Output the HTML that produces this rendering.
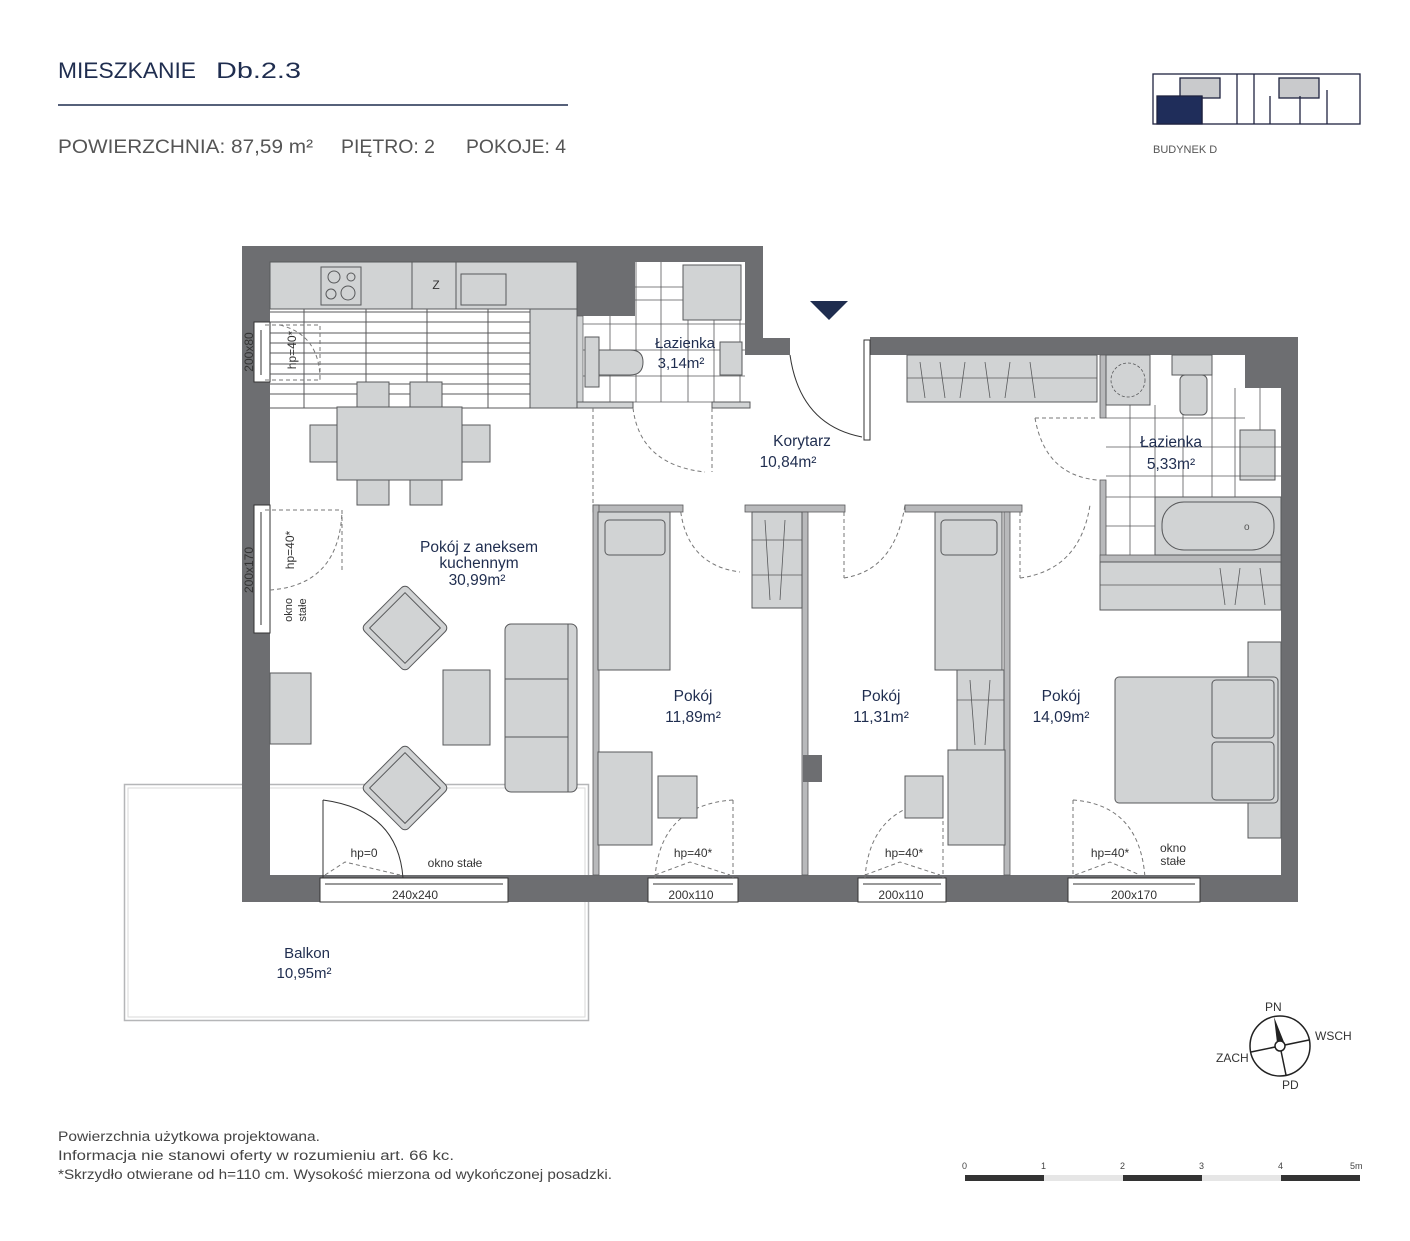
<!DOCTYPE html>
<html><head><meta charset="utf-8"><style>
html,body{margin:0;padding:0;background:#fff;}
svg{display:block;}
text{font-family:"Liberation Sans",sans-serif;}
</style></head><body>
<svg width="1410" height="1241" viewBox="0 0 1410 1241" xmlns="http://www.w3.org/2000/svg">
<rect width="1410" height="1241" fill="#fff"/>
<!-- header -->
<text x="58" y="78" font-size="22" fill="#1f2d4f" textLength="138" lengthAdjust="spacingAndGlyphs">MIESZKANIE</text>
<text x="216" y="78" font-size="22" fill="#1f2d4f" textLength="85" lengthAdjust="spacingAndGlyphs">Db.2.3</text>
<line x1="58" y1="105" x2="568" y2="105" stroke="#1f2d4f" stroke-width="1.5"/>
<g font-size="19" fill="#555">
<text x="58" y="153" textLength="255" lengthAdjust="spacingAndGlyphs">POWIERZCHNIA:  87,59 m²</text>
<text x="341" y="153" textLength="94" lengthAdjust="spacingAndGlyphs">PIĘTRO:  2</text>
<text x="466" y="153" textLength="100" lengthAdjust="spacingAndGlyphs">POKOJE:  4</text>
</g>

<!-- building thumbnail -->
<g stroke="#1f2340" stroke-width="1.3" fill="#fff">
<rect x="1153" y="74" width="207" height="50"/>
<rect x="1180" y="78" width="40" height="20" fill="#c9cacc"/>
<rect x="1279" y="78" width="40" height="20" fill="#c9cacc"/>
<rect x="1157" y="96" width="45" height="28" fill="#1f2d5a"/>
<line x1="1202" y1="96" x2="1202" y2="124"/>
<line x1="1237" y1="74" x2="1237" y2="124"/><line x1="1254" y1="74" x2="1254" y2="124"/>
<line x1="1270" y1="96" x2="1270" y2="124"/><line x1="1300" y1="96" x2="1300" y2="124"/><line x1="1327" y1="90" x2="1327" y2="124"/>
</g>
<text x="1153" y="153" font-size="11" fill="#555">BUDYNEK D</text>

<!-- balcony -->
<rect x="124.5" y="784.5" width="464" height="236" fill="none" stroke="#b5b6b8" stroke-width="1.5"/>
<rect x="128" y="788" width="457" height="229" fill="none" stroke="#d8d9da" stroke-width="1"/>
<text x="307" y="958" font-size="15" fill="#1f2d4f" text-anchor="middle">Balkon</text>
<text x="304" y="978" font-size="15" fill="#1f2d4f" text-anchor="middle">10,95m²</text>

<!-- walls -->
<g fill="#6d6e71">
<rect x="242" y="246" width="28" height="656"/>
<rect x="242" y="246" width="521" height="16"/>
<rect x="577" y="262" width="58" height="54"/>
<rect x="745" y="246" width="18" height="109"/>
<rect x="745" y="338" width="45" height="17"/>
<rect x="870" y="337" width="428" height="18"/>
<rect x="1245" y="355" width="36" height="33"/>
<rect x="1281" y="337" width="17" height="565"/>
<rect x="242" y="875" width="1056" height="27"/>
</g>
<!-- windows -->
<g fill="#fff" stroke="#333" stroke-width="1">
<rect x="254" y="322" width="16" height="60"/>
<rect x="254" y="505" width="16" height="128"/>
<rect x="320" y="878" width="188" height="24"/>
<rect x="648" y="878" width="90" height="24"/>
<rect x="858" y="878" width="88" height="24"/>
<rect x="1068" y="878" width="132" height="24"/>
</g>
<g stroke="#333" stroke-width="1" fill="none">
<line x1="261" y1="330" x2="261" y2="375"/><line x1="261" y1="512" x2="261" y2="625"/>
<line x1="325" y1="884" x2="503" y2="884"/><line x1="653" y1="884" x2="733" y2="884"/>
<line x1="863" y1="884" x2="941" y2="884"/><line x1="1073" y1="884" x2="1195" y2="884"/>
</g>
<g font-size="12" fill="#333" text-anchor="middle">
<text x="415" y="899">240x240</text><text x="691" y="899">200x110</text>
<text x="901" y="899">200x110</text><text x="1134" y="899">200x170</text>
<text transform="translate(253,352) rotate(-90)">200x80</text>
<text transform="translate(253,570) rotate(-90)">200x170</text>
</g>

<!-- kitchen -->
<g fill="#d1d3d4" stroke="#58595b" stroke-width="1">
<rect x="270" y="262" width="307" height="47"/>
<rect x="530" y="309" width="47" height="99"/>
<rect x="321" y="267" width="40" height="38"/>
<rect x="461" y="274" width="45" height="31"/>
</g>
<g stroke="#58595b" fill="none" stroke-width="1">
<line x1="412" y1="262" x2="412" y2="309"/><line x1="456" y1="262" x2="456" y2="309"/>
<circle cx="334" cy="277" r="6"/><circle cx="351" cy="277" r="4"/><circle cx="331" cy="294" r="5"/><circle cx="348" cy="293" r="7"/>
<path d="M270 312H530M270 322H530M270 333H530M270 343H530M270 353H530M270 364H530M270 374H530M270 384H530M270 394H530M270 408H577"/>
<path d="M304 309V408M366 309V408M427 309V408M488 309V408"/>
</g>
<text x="436" y="289" font-size="12" fill="#333" text-anchor="middle">Z</text>

<!-- bathroom 1 -->
<rect x="577" y="316" width="6" height="92" fill="#d1d3d4" stroke="#58595b" stroke-width="0.7"/>
<g stroke="#58595b" fill="none" stroke-width="0.8">
<path d="M583 324H745M583 350H745M583 376H745M583 402H745M635 287H683M635 300H683"/>
<path d="M610 316V402M636 262V402M661 262V402M688 316V402M714 316V402M740 316V402"/>
</g>
<g fill="#d1d3d4" stroke="#58595b" stroke-width="1">
<rect x="683" y="265" width="58" height="55"/>
<rect x="585" y="337" width="14" height="50"/>
<path d="M599 350H630Q643 350 643 362Q643 375 630 375H599Z"/>
<rect x="720" y="342" width="22" height="33"/>
<rect x="577" y="402" width="56" height="6"/>
<rect x="712" y="402" width="38" height="6"/>
</g>
<text x="685" y="348" font-size="15" fill="#1f2d4f" text-anchor="middle">Łazienka</text>
<text x="681" y="368" font-size="15" fill="#1f2d4f" text-anchor="middle">3,14m²</text>

<!-- dashed door swings -->
<g stroke="#777" stroke-dasharray="4,3" fill="none" stroke-width="1">
<line x1="593" y1="408" x2="593" y2="505"/>
<line x1="712" y1="408" x2="712" y2="472"/>
<path d="M633 408Q640 465 705 472"/>
<path d="M265 325L320 325L320 380L265 380"/><path d="M280 325Q320 335 320 380"/>
<path d="M265 510L342 510L342 570"/><path d="M270 590Q340 585 342 510"/>
<path d="M680 505Q685 565 740 572"/>
<path d="M844 505V578"/><path d="M844 578Q895 570 905 505"/>
<path d="M1020 505V578"/><path d="M1020 578Q1080 570 1090 505"/>
<path d="M1035 418H1097"/><path d="M1035 418Q1045 475 1097 480"/>
<path d="M733 800V878M655 878Q660 805 733 800"/>
<path d="M943 800V878M865 878Q870 805 943 800"/>
<path d="M1073 800V878M1073 800Q1140 805 1145 878"/>
<path d="M325 875L345 862L400 875M655 875L690 862L730 875M865 875L900 862L940 875M1075 875L1110 862L1140 875"/>
</g>
<g stroke="#333" fill="none" stroke-width="1">
<path d="M323 800V878M323 800Q398 810 403 878"/>
</g>

<!-- entrance door -->
<g stroke="#333" fill="none" stroke-width="1">
<rect x="864" y="340" width="6" height="100" fill="#fff"/>
<path d="M790 355Q800 425 862 437"/>
</g>
<path d="M810 301H848L829 320Z" fill="#1f2d4f"/>

<!-- partitions -->
<g fill="#b8b9bb" stroke="#58595b" stroke-width="0.8">
<rect x="593" y="505" width="90" height="7"/>
<rect x="745" y="505" width="100" height="7"/>
<rect x="905" y="505" width="117" height="7"/>
<rect x="593" y="505" width="6" height="370"/>
<rect x="802" y="512" width="6" height="363"/>
<rect x="1004" y="512" width="6" height="363"/>
<rect x="1100" y="355" width="6" height="63"/>
<rect x="1100" y="480" width="6" height="82"/>
<rect x="1100" y="555" width="181" height="7"/>
</g>
<rect x="803" y="755" width="19" height="27" fill="#6d6e71"/>

<!-- dining / living -->
<g fill="#d1d3d4" stroke="#58595b" stroke-width="1">
<rect x="357" y="382" width="32" height="25"/><rect x="410" y="382" width="32" height="25"/>
<rect x="357" y="480" width="32" height="25"/><rect x="410" y="480" width="32" height="25"/>
<rect x="310" y="425" width="27" height="37"/><rect x="462" y="425" width="28" height="37"/>
<rect x="337" y="407" width="125" height="73"/>
<rect x="270" y="673" width="41" height="71"/>
<rect x="443" y="670" width="47" height="75"/>
<rect x="505" y="624" width="72" height="168" rx="6"/>
<line x1="505" y1="679" x2="568" y2="679"/><line x1="505" y1="737" x2="568" y2="737"/><line x1="568" y1="624" x2="568" y2="792"/>
<rect x="374" y="597" width="62" height="62" transform="rotate(45 405 628)" rx="5"/>
<rect x="380" y="603" width="50" height="50" transform="rotate(45 405 628)"/>
<rect x="374" y="757" width="62" height="62" transform="rotate(45 405 788)" rx="5"/>
<rect x="380" y="763" width="50" height="50" transform="rotate(45 405 788)"/>
</g>
<text x="479" y="552" font-size="15.5" fill="#1f2d4f" text-anchor="middle">Pokój z aneksem</text>
<text x="479" y="568" font-size="15.5" fill="#1f2d4f" text-anchor="middle">kuchennym</text>
<text x="477" y="585" font-size="15.5" fill="#1f2d4f" text-anchor="middle">30,99m²</text>
<text transform="translate(292,610) rotate(-90)" font-size="11" fill="#333" text-anchor="middle">okno</text>
<text transform="translate(306,610) rotate(-90)" font-size="11" fill="#333" text-anchor="middle">stałe</text>
<g font-size="12" fill="#333" text-anchor="middle">
<text x="364" y="857">hp=0</text><text x="455" y="867">okno stałe</text>
<text x="693" y="857">hp=40*</text><text x="904" y="857">hp=40*</text><text x="1110" y="857">hp=40*</text>
<text x="1173" y="852">okno</text><text x="1173" y="865">stałe</text>
<text transform="translate(296,350) rotate(-90)">hp=40*</text>
<text transform="translate(294,550) rotate(-90)">hp=40*</text>
</g>

<!-- rooms furniture -->
<g fill="#d1d3d4" stroke="#58595b" stroke-width="1">
<rect x="598" y="512" width="72" height="158"/><rect x="605" y="520" width="60" height="35" rx="4"/>
<rect x="752" y="512" width="50" height="96"/>
<rect x="598" y="752" width="54" height="93"/><rect x="658" y="776" width="39" height="42"/>
<rect x="935" y="512" width="67" height="158"/><rect x="941" y="520" width="56" height="35" rx="4"/>
<rect x="957" y="670" width="47" height="80"/>
<rect x="948" y="750" width="57" height="95"/><rect x="905" y="776" width="38" height="42"/>
<rect x="1100" y="562" width="181" height="48"/>
<rect x="1248" y="642" width="33" height="196"/>
<rect x="1115" y="677" width="163" height="126" rx="4"/>
<rect x="1212" y="680" width="62" height="58" rx="4"/><rect x="1212" y="742" width="62" height="58" rx="4"/>
<rect x="907" y="355" width="190" height="47"/>
<rect x="1106" y="355" width="44" height="50"/>
<rect x="1172" y="355" width="40" height="20"/><rect x="1180" y="375" width="27" height="40" rx="5"/>
<rect x="1240" y="430" width="35" height="50"/>
<rect x="1155" y="497" width="126" height="58"/><rect x="1162" y="502" width="112" height="48" rx="22"/>
</g>
<g stroke="#58595b" fill="none" stroke-width="0.8">
<path d="M752 540H802M752 575H802M957 700H1004M1100 585H1281M907 378H1097"/>
<circle cx="1128" cy="380" r="17" stroke-dasharray="3,2"/>
<path d="M1106 418H1245M1106 447H1281M1106 476H1281M1106 497H1155M1106 526H1155"/>
<path d="M1130 405V555M1155 405V497M1183 415V497M1212 375V497M1235 388V497M1260 388V430"/>
<path d="M920 362L925 398M940 362L945 398M965 362L960 398M985 362L990 398M1010 362L1005 398M1030 362L1035 398M1220 568L1225 605M1240 568L1235 605M1260 568L1265 605M765 520L770 600M785 520L780 600M970 680L975 745M990 680L985 745"/>
</g>
<text x="1244" y="530" font-size="10" fill="#555">o</text>
<text x="802" y="446" font-size="15.5" fill="#1f2d4f" text-anchor="middle" dx="0">Korytarz</text>
<text x="788" y="467" font-size="15.5" fill="#1f2d4f" text-anchor="middle">10,84m²</text>
<text x="1171" y="447" font-size="15.5" fill="#1f2d4f" text-anchor="middle">Łazienka</text>
<text x="1171" y="469" font-size="15.5" fill="#1f2d4f" text-anchor="middle">5,33m²</text>
<text x="693" y="701" font-size="15.5" fill="#1f2d4f" text-anchor="middle">Pokój</text>
<text x="693" y="722" font-size="15.5" fill="#1f2d4f" text-anchor="middle">11,89m²</text>
<text x="881" y="701" font-size="15.5" fill="#1f2d4f" text-anchor="middle">Pokój</text>
<text x="881" y="722" font-size="15.5" fill="#1f2d4f" text-anchor="middle">11,31m²</text>
<text x="1061" y="701" font-size="15.5" fill="#1f2d4f" text-anchor="middle">Pokój</text>
<text x="1061" y="722" font-size="15.5" fill="#1f2d4f" text-anchor="middle">14,09m²</text>

<!-- compass -->
<g stroke="#222" stroke-width="1.5" fill="none">
<circle cx="1280" cy="1046" r="30"/>
<line x1="1251" y1="1052" x2="1309" y2="1040"/>
<line x1="1280" y1="1046" x2="1286" y2="1075"/>
</g>
<path d="M1274 1017L1284 1042L1277 1043Z" fill="#222"/>
<circle cx="1280" cy="1046" r="5" fill="#fff" stroke="#222" stroke-width="1.5"/>
<g font-size="12" fill="#333">
<text x="1265" y="1011">PN</text><text x="1315" y="1040">WSCH</text>
<text x="1216" y="1062">ZACH</text><text x="1282" y="1089">PD</text>
</g>

<!-- scale -->
<g>
<rect x="965" y="1175" width="79" height="6" fill="#333"/>
<rect x="1044" y="1175" width="79" height="6" fill="#e6e6e6"/>
<rect x="1123" y="1175" width="79" height="6" fill="#333"/>
<rect x="1202" y="1175" width="79" height="6" fill="#e6e6e6"/>
<rect x="1281" y="1175" width="79" height="6" fill="#333"/>
</g>
<g font-size="9" fill="#444">
<text x="962" y="1169">0</text><text x="1041" y="1169">1</text><text x="1120" y="1169">2</text>
<text x="1199" y="1169">3</text><text x="1278" y="1169">4</text><text x="1350" y="1169">5m</text>
</g>

<!-- footer -->
<g font-size="13.5" fill="#444">
<text x="58" y="1141" textLength="262" lengthAdjust="spacingAndGlyphs">Powierzchnia użytkowa projektowana.</text>
<text x="58" y="1160" textLength="396" lengthAdjust="spacingAndGlyphs">Informacja nie stanowi oferty w rozumieniu art. 66 kc.</text>
<text x="58" y="1179" textLength="554" lengthAdjust="spacingAndGlyphs">*Skrzydło otwierane od h=110 cm. Wysokość mierzona od wykończonej posadzki.</text>
</g>
</svg>
</body></html>
